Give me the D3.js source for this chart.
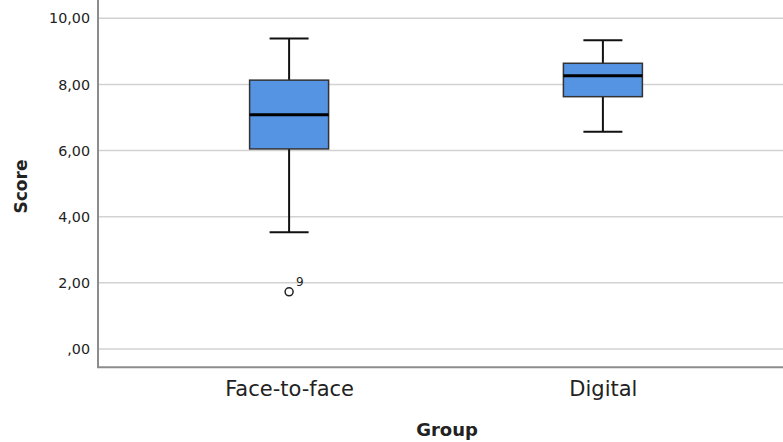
<!DOCTYPE html>
<html><head><meta charset="utf-8">
<script src="https://cdn.jsdelivr.net/npm/d3@7"></script>
<style>body{margin:0;background:#fff;} svg{display:block;}</style>
</head><body>
<svg id="c" width="783" height="442"></svg>
<script>
const categories = ["Face-to-face", "Digital"];
const whiskerLow  = [3.53, 6.57];
const q1          = [6.05, 7.63];
const medians     = [7.08, 8.26];
const q3          = [8.13, 8.64];
const whiskerHigh = [9.39, 9.34];
const outlierGroup = ["Face-to-face"];
const outlierValue = [1.73];
const outlierLabel = ["9"];
const yTicks = [0, 2, 4, 6, 8, 10];
const yTickLabels = [",00", "2,00", "4,00", "6,00", "8,00", "10,00"];

(function () {
const svg = d3.select("#c");
const mLeft = 98, mRight = 794, mBottom = 367.3;
const y = d3.scaleLinear().domain([0, 10]).range([349, 18.3]);
const x = d3.scalePoint().domain(categories).range([mLeft, mRight]).padding(0.609);

// gridlines
svg.append("g").selectAll("line").data(yTicks).join("line")
  .attr("x1", mLeft).attr("x2", 783)
  .attr("y1", d => y(d)).attr("y2", d => y(d))
  .attr("stroke", "#d2d2d2").attr("stroke-width", 1.5);

// y axis
const yAxis = d3.axisLeft(y).tickValues(yTicks).tickFormat((d, i) => yTickLabels[i]).tickSize(0).tickPadding(8);
const gy = svg.append("g").attr("transform", `translate(${mLeft},0)`).call(yAxis);
gy.select(".domain").remove();
gy.selectAll("text").attr("font-family", "DejaVu Sans").attr("font-size", 14.3).attr("fill", "#222");

// x axis
const xAxis = d3.axisBottom(x).tickSize(0).tickPadding(10);
const gx = svg.append("g").attr("transform", `translate(0,${mBottom})`).call(xAxis);
gx.select(".domain").remove();
gx.selectAll("text").attr("font-family", "DejaVu Sans").attr("font-size", 21).attr("fill", "#222").attr("dy", "0.88em");

// axis lines
svg.append("line").attr("x1", mLeft).attr("x2", mLeft).attr("y1", 0).attr("y2", mBottom)
  .attr("stroke", "#8c8c8c").attr("stroke-width", 2);
svg.append("line").attr("x1", mLeft - 1).attr("x2", 783).attr("y1", mBottom).attr("y2", mBottom)
  .attr("stroke", "#8c8c8c").attr("stroke-width", 2);

// boxes
const boxW = 79, capW = 39;
const data = categories.map((c, i) => ({c, lo: whiskerLow[i], q1: q1[i], med: medians[i], q3: q3[i], hi: whiskerHigh[i]}));
const g = svg.append("g").selectAll("g").data(data).join("g");
g.append("line").attr("x1", d => x(d.c)).attr("x2", d => x(d.c))
  .attr("y1", d => y(d.hi)).attr("y2", d => y(d.q3)).attr("stroke", "#111").attr("stroke-width", 2);
g.append("line").attr("x1", d => x(d.c)).attr("x2", d => x(d.c))
  .attr("y1", d => y(d.q1)).attr("y2", d => y(d.lo)).attr("stroke", "#111").attr("stroke-width", 2);
g.append("line").attr("x1", d => x(d.c) - capW / 2).attr("x2", d => x(d.c) + capW / 2)
  .attr("y1", d => y(d.hi)).attr("y2", d => y(d.hi)).attr("stroke", "#111").attr("stroke-width", 2);
g.append("line").attr("x1", d => x(d.c) - capW / 2).attr("x2", d => x(d.c) + capW / 2)
  .attr("y1", d => y(d.lo)).attr("y2", d => y(d.lo)).attr("stroke", "#111").attr("stroke-width", 2);
g.append("rect").attr("x", d => x(d.c) - boxW / 2).attr("width", boxW)
  .attr("y", d => y(d.q3)).attr("height", d => y(d.q1) - y(d.q3))
  .attr("fill", "#5593e3").attr("stroke", "#333").attr("stroke-width", 1.5);
g.append("line").attr("x1", d => x(d.c) - boxW / 2).attr("x2", d => x(d.c) + boxW / 2)
  .attr("y1", d => y(d.med)).attr("y2", d => y(d.med)).attr("stroke", "#000").attr("stroke-width", 3);

// outliers
const outs = outlierGroup.map((c, i) => ({c, v: outlierValue[i], l: outlierLabel[i]}));
svg.append("g").selectAll("circle").data(outs).join("circle")
  .attr("cx", d => x(d.c)).attr("cy", d => y(d.v)).attr("r", 4)
  .attr("fill", "none").attr("stroke", "#222").attr("stroke-width", 1.5);
svg.append("g").selectAll("text").data(outs).join("text")
  .attr("x", d => x(d.c) + 7).attr("y", d => y(d.v) - 6)
  .attr("font-family", "DejaVu Sans").attr("font-size", 12).attr("fill", "#222").text(d => d.l);

// titles
svg.append("text").attr("x", 447).attr("y", 436).attr("text-anchor", "middle")
  .attr("font-family", "DejaVu Sans").attr("font-weight", "bold").attr("font-size", 18).attr("fill", "#222").text("Group");
svg.append("text").attr("transform", "translate(27,186.5) rotate(-90)").attr("text-anchor", "middle")
  .attr("font-family", "DejaVu Sans").attr("font-weight", "bold").attr("font-size", 17).attr("fill", "#222").text("Score");
})();
</script>
</body></html>
